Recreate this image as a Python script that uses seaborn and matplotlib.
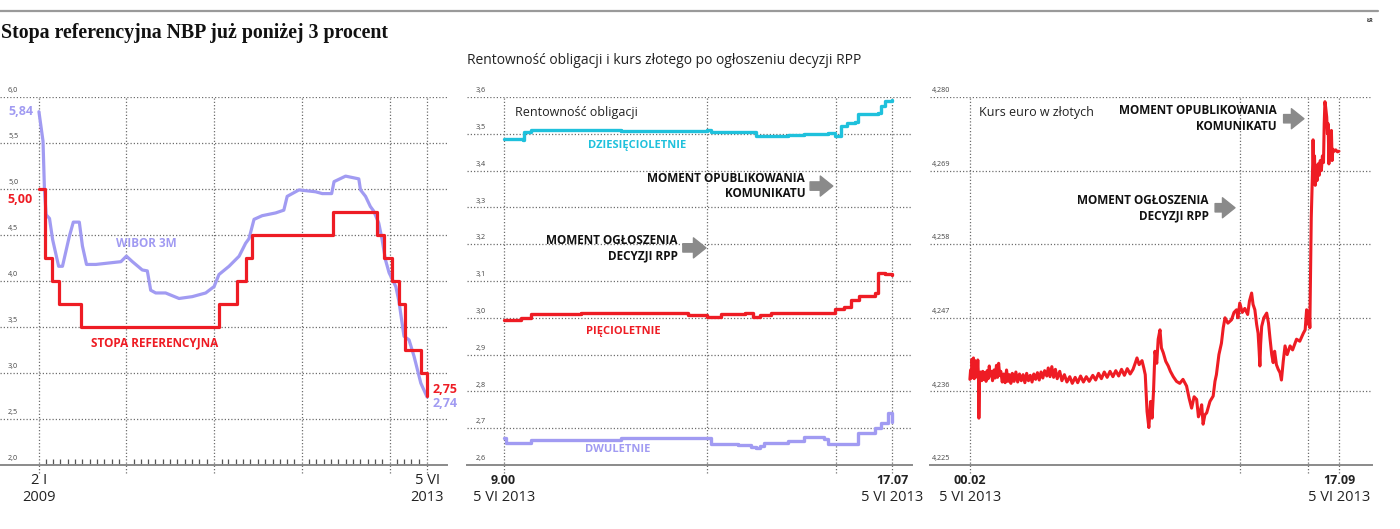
import pandas as pd
import seaborn as sns
import matplotlib.pyplot as plt

# --- left panel: NBP reference rate and WIBOR 3M (2009-2013)
ref_dates = ["2009-01-02", "2009-01-28", "2009-02-26", "2009-03-26", "2009-06-25",
             "2011-01-20", "2011-04-06", "2011-05-12", "2011-06-09", "2012-05-10",
             "2012-11-08", "2012-12-06", "2013-01-10", "2013-02-07", "2013-03-07",
             "2013-05-09", "2013-06-05"]
ref_values = [5.00, 4.25, 4.00, 3.75, 3.50, 3.75, 4.00, 4.25, 4.50, 4.75,
              4.50, 4.25, 4.00, 3.75, 3.25, 3.00, 2.75]

wibor_dates = ["2009-01-02", "2009-01-19", "2009-01-25", "2009-02-01", "2009-02-15",
               "2009-02-28", "2009-03-25", "2009-04-10", "2009-05-08", "2009-05-25",
               "2009-06-19", "2009-07-02", "2009-07-19", "2009-08-27", "2009-11-04",
               "2009-12-09", "2010-01-01", "2010-01-26", "2010-03-08", "2010-03-29",
               "2010-04-12", "2010-05-03", "2010-06-13", "2010-08-08", "2010-10-02",
               "2010-11-27", "2011-01-01", "2011-01-21", "2011-03-04", "2011-04-15",
               "2011-05-12", "2011-05-26", "2011-06-16", "2011-07-20", "2011-09-14",
               "2011-10-18", "2011-11-01", "2011-12-20", "2012-02-27", "2012-03-26",
               "2012-05-04", "2012-05-14", "2012-07-01", "2012-08-25", "2012-09-01",
               "2012-09-22", "2012-10-12", "2012-10-26", "2012-11-16", "2012-11-30",
               "2012-12-14", "2012-12-29", "2013-01-26", "2013-02-08", "2013-03-01",
               "2013-03-22", "2013-04-12", "2013-05-10", "2013-06-05"]
wibor_values = [5.84, 5.52, 4.99, 4.72, 4.68, 4.45, 4.16, 4.16, 4.48, 4.64,
                4.64, 4.38, 4.18, 4.18, 4.20, 4.21, 4.27, 4.21, 4.12, 4.11,
                3.90, 3.87, 3.87, 3.81, 3.83, 3.87, 3.94, 4.07, 4.16, 4.27,
                4.41, 4.46, 4.67, 4.71, 4.74, 4.77, 4.92, 4.99, 4.97, 4.95,
                4.95, 5.08, 5.14, 5.11, 4.99, 4.92, 4.81, 4.76, 4.63, 4.45,
                4.23, 4.09, 3.94, 3.78, 3.40, 3.36, 3.18, 2.89, 2.74]

# --- middle panel: bond yields on 5 VI 2013
y10_times = ["09:00", "09:24", "09:26", "09:34", "10:45", "11:27", "13:15", "13:20",
             "14:15", "14:17", "14:56", "15:17", "15:47", "15:55", "16:03", "16:10",
             "16:20", "16:24", "16:49", "16:53", "16:58", "17:07"]
y10_values = [3.486, 3.484, 3.504, 3.509, 3.509, 3.507, 3.509, 3.504,
              3.504, 3.495, 3.498, 3.500, 3.502, 3.493, 3.520, 3.529,
              3.531, 3.555, 3.556, 3.575, 3.588, 3.591]

y5_times = ["09:00", "09:22", "09:34", "10:37", "11:27", "12:51", "13:15", "13:20",
            "13:33", "14:02", "14:12", "14:21", "14:35", "15:51", "15:55", "16:07",
            "16:16", "16:26", "16:45", "16:49", "16:58", "17:07"]
y5_values = [2.994, 2.999, 3.010, 3.013, 3.013, 3.008, 3.002, 3.003,
             3.010, 3.014, 3.002, 3.008, 3.013, 3.013, 3.023, 3.028,
             3.049, 3.060, 3.067, 3.121, 3.119, 3.115]

y2_times = ["09:00", "09:03", "09:34", "11:27", "13:15", "13:20", "13:54", "14:10",
            "14:17", "14:22", "14:27", "14:56", "15:17", "15:42", "15:47", "16:11",
            "16:24", "16:45", "16:53", "17:02", "17:07"]
y2_values = [2.673, 2.659, 2.668, 2.673, 2.673, 2.657, 2.654, 2.650,
             2.645, 2.652, 2.659, 2.666, 2.677, 2.670, 2.657, 2.657,
             2.686, 2.700, 2.713, 2.740, 2.718]

# --- right panel: EUR/PLN on 5 VI 2013
eur_times = ["00:02", "00:04", "00:06", "00:08", "00:10", "00:12", "00:14", "00:16",
             "00:18", "00:20", "00:22", "00:24", "00:26", "00:27", "00:29", "00:32",
             "00:35", "00:38", "00:41", "00:44", "00:47", "00:50", "00:53", "00:56",
             "00:58", "01:02", "01:05", "01:09", "01:12", "01:16", "01:19", "01:22",
             "01:25", "01:28", "01:32", "01:36", "01:40", "01:44", "01:48", "01:52",
             "01:56", "02:00", "02:05", "02:10", "02:15", "02:20", "02:25", "02:30",
             "02:35", "02:40", "02:45", "02:50", "02:55", "03:00", "03:05", "03:10",
             "03:15", "03:20", "03:25", "03:30", "03:36", "03:40", "03:45", "03:50",
             "03:55", "04:00", "04:05", "04:12", "04:18", "04:25", "04:32", "04:40",
             "04:47", "04:55", "05:02", "05:10", "05:18", "05:26", "05:34", "05:44",
             "05:52", "06:00", "06:08", "06:16", "06:24", "06:32", "06:40", "06:48",
             "06:56", "07:04", "07:12", "07:20", "07:28", "07:36", "07:42", "07:47",
             "07:53", "08:01", "08:06", "08:10", "08:15", "08:20", "08:25", "08:29",
             "08:33", "08:37", "08:42", "08:46", "08:51",
             "08:55", "09:00", "09:07", "09:14", "09:20", "09:28", "09:37", "09:46",
             "09:55", "10:05", "10:12", "10:19", "10:26", "10:33", "10:38", "10:42",
             "10:47", "10:51", "10:56", "11:01", "11:10", "11:19", "11:24", "11:28",
             "11:35", "11:42", "11:47", "11:52", "12:00", "12:10", "12:17", "12:24",
             "12:28", "12:33", "12:40", "12:47", "12:55", "13:00", "13:06", "13:10",
             "13:15", "13:20", "13:24", "13:27", "13:29", "13:31", "13:34", "13:40",
             "13:48", "13:53", "13:57", "14:02", "14:06", "14:10", "14:15", "14:20",
             "14:25", "14:29", "14:34", "14:39", "14:45", "14:53", "15:00", "15:11",
             "15:20", "15:30", "15:35", "15:39", "15:42",
             "15:44", "15:46", "15:48", "15:50", "15:52", "15:54", "15:56", "15:57",
             "15:59", "16:01", "16:03", "16:05", "16:08", "16:11", "16:14", "16:17",
             "16:20", "16:23", "16:26", "16:28", "16:30", "16:32", "16:35", "16:37",
             "16:39", "16:41", "16:43", "16:46", "16:48", "16:50", "16:52", "16:56",
             "17:00", "17:05", "17:09"]
eur_values = [4.2378, 4.2392, 4.2380, 4.2408, 4.2385, 4.2410, 4.2379, 4.2406,
              4.2381, 4.2402, 4.2384, 4.2407, 4.2380, 4.2320, 4.2383, 4.2389,
              4.2376, 4.2390, 4.2378, 4.2388, 4.2375, 4.2391, 4.2379, 4.2398,
              4.2383, 4.2390, 4.2376, 4.2392, 4.2380, 4.2399, 4.2381, 4.2402,
              4.2384, 4.2390, 4.2374, 4.2386, 4.2373, 4.2392, 4.2375, 4.2385,
              4.2372, 4.2387, 4.2375, 4.2389, 4.2374, 4.2386, 4.2376, 4.2385,
              4.2373, 4.2387, 4.2376, 4.2384, 4.2374, 4.2386, 4.2378, 4.2388,
              4.2377, 4.2389, 4.2380, 4.2391, 4.2383, 4.2395, 4.2382, 4.2397,
              4.2381, 4.2393, 4.2379, 4.2390, 4.2376, 4.2385, 4.2374, 4.2382,
              4.2372, 4.2381, 4.2373, 4.2383, 4.2374, 4.2382, 4.2375, 4.2384,
              4.2377, 4.2387, 4.2379, 4.2389, 4.2381, 4.2390, 4.2382, 4.2391,
              4.2383, 4.2393, 4.2384, 4.2394, 4.2386, 4.2393, 4.2402, 4.2410,
              4.2400, 4.2406, 4.2395, 4.2385, 4.2330, 4.2306, 4.2345, 4.2320,
              4.2360, 4.2420, 4.2402, 4.2438, 4.2452,
              4.2425, 4.2418, 4.2405, 4.2398, 4.2390, 4.2382, 4.2375, 4.2372,
              4.2378, 4.2368, 4.2350, 4.2335, 4.2352, 4.2348, 4.2322, 4.2328,
              4.2340, 4.2311, 4.2325, 4.2328, 4.2345, 4.2353, 4.2375, 4.2385,
              4.2415, 4.2432, 4.2455, 4.2470, 4.2462, 4.2467, 4.2478, 4.2482,
              4.2470, 4.2492, 4.2478, 4.2484, 4.2475, 4.2495, 4.2507, 4.2490,
              4.2482, 4.2460, 4.2447, 4.2420, 4.2398, 4.2430, 4.2457, 4.2470,
              4.2477, 4.2462, 4.2440, 4.2415, 4.2403, 4.2420, 4.2400, 4.2393,
              4.2388, 4.2377, 4.2405, 4.2428, 4.2415, 4.2428, 4.2422, 4.2438,
              4.2435, 4.2447, 4.2452, 4.2482, 4.2470,
              4.2460, 4.2480, 4.2455, 4.2540, 4.2620, 4.2660, 4.2700, 4.2736,
              4.2680, 4.2712, 4.2668, 4.2695, 4.2675, 4.2700, 4.2683, 4.2705,
              4.2690, 4.2712, 4.2702, 4.2760, 4.2793, 4.2785, 4.2770, 4.2745,
              4.2760, 4.2700, 4.2745, 4.2725, 4.2750, 4.2705, 4.2722, 4.2719,
              4.2721, 4.2718, 4.2719]

left_yticks = [2.0, 2.5, 3.0, 3.5, 4.0, 4.5, 5.0, 5.5, 6.0]
mid_yticks = [2.6, 2.7, 2.8, 2.9, 3.0, 3.1, 3.2, 3.3, 3.4, 3.5, 3.6]
right_yticks = [4.225, 4.236, 4.247, 4.258, 4.269, 4.280]
left_grid = ["2009-01-02", "2010-01-01", "2011-01-01", "2012-01-01", "2013-01-01", "2013-06-05"]
mid_grid = ["09:00", "13:15", "15:57", "17:07"]
right_grid = ["00:02", "12:34", "15:44", "17:09"]

DAY = "2013-06-05 "
RED = "#ee1c24"
LAV = "#a19bf2"
CYAN = "#1fc1dc"
GRID = "#6e6e6e"
TXT = "#222222"
ARROW = "#8a8a8a"

sns.set_style("white")
plt.rcParams["font.family"] = ["Open Sans", "DejaVu Sans"]

W, H = 1400, 529
fig = plt.figure(figsize=(14, 5.29), dpi=100)


def px_axes(x0, x1, y_top, y_bot):
    return fig.add_axes([x0 / W, 1 - y_bot / H, (x1 - x0) / W, (y_bot - y_top) / H])


def comma(v, nd):
    return f"{v:.{nd}f}".replace(".", ",")


def style(ax, yticks, nd, vlines, label_x):
    ax.set_ylim(yticks[0], yticks[-1])
    for s in ["top", "right", "left"]:
        ax.spines[s].set_visible(False)
    ax.spines["bottom"].set_color("#8a8a8a")
    ax.spines["bottom"].set_linewidth(1.4)
    ax.set_yticks([])
    ax.set_xlabel("")
    ax.set_ylabel("")
    for v in yticks:
        if v != yticks[0]:
            ax.axhline(v, color=GRID, lw=0.9, ls=(0, (1, 1.6)), zorder=0)
        ax.annotate(comma(v, nd), (label_x, v), xycoords=ax.get_yaxis_transform(),
                    xytext=(0, 2), textcoords="offset points", fontsize=5.2,
                    color="#444444", ha="left", va="bottom")
    for d in vlines:
        ax.axvline(d, ymin=-0.022, ymax=1, color=GRID, lw=0.9, ls=(0, (1, 1.6)),
                   clip_on=False, zorder=0)


def arrow_note(ax, text, x_text, y, x0, x1):
    ax.text(x_text, y, text, transform=ax.transAxes, ha="right", va="center",
            fontsize=8.5, fontweight="bold", color="#111111", linespacing=1.25)
    ax.annotate("", xy=(x1, y), xytext=(x0, y), xycoords="axes fraction",
                arrowprops=dict(arrowstyle="simple,head_length=0.75,head_width=1.2,tail_width=0.5",
                                color=ARROW, shrinkA=0, shrinkB=0, mutation_scale=12))


def xlabels(ax, xs, times, dates, bold_time):
    tr = ax.get_xaxis_transform()
    for x, t, d in zip(xs, times, dates):
        ax.text(x, -0.042, t, transform=tr, ha="center", va="center", fontsize=9 if bold_time else 10.5,
                fontweight="bold" if bold_time else "normal", color=TXT)
        ax.text(x, -0.088, d, transform=tr, ha="center", va="center", fontsize=10.5, color=TXT)
    ax.set_xticks([])


# ---------------- left panel
ax1 = px_axes(0, 447, 97, 465)
sns.lineplot(x=pd.to_datetime(wibor_dates), y=wibor_values, ax=ax1, color=LAV, lw=2.3,
             estimator=None, sort=False)
sns.lineplot(x=pd.to_datetime(ref_dates), y=ref_values, ax=ax1, color=RED, lw=2.3,
             drawstyle="steps-post", estimator=None, sort=False)
ax1.set_xlim(pd.Timestamp("2008-07-24"), pd.Timestamp("2013-08-27"))
style(ax1, left_yticks, 1, pd.to_datetime(left_grid), 0.018)
xlabels(ax1, pd.to_datetime(["2009-01-02", "2013-06-05"]), ["2 I", "5 VI"], ["2009", "2013"], False)
months = [m for m in pd.date_range("2009-02-01", "2013-05-01", freq="MS") if m.month != 1]
ax1.set_xticks(months, minor=True)
ax1.tick_params(axis="x", which="minor", bottom=True, direction="in", length=4.5, width=0.9,
                color="#555555")

ax1.text(0.074, 5.84, "5,84", transform=ax1.get_yaxis_transform(), ha="right", va="center",
         fontsize=9, fontweight="bold", color=LAV)
ax1.text(0.074, 4.89, "5,00", transform=ax1.get_yaxis_transform(), ha="right", va="center",
         fontsize=9, fontweight="bold", color=RED)
ax1.text(0.968, 2.82, "2,75", transform=ax1.get_yaxis_transform(), ha="left", va="center",
         fontsize=9, fontweight="bold", color=RED)
ax1.text(0.968, 2.67, "2,74", transform=ax1.get_yaxis_transform(), ha="left", va="center",
         fontsize=9, fontweight="bold", color=LAV)
ax1.text(0.327, 0.603, "WIBOR 3M", transform=ax1.transAxes, ha="center", va="center",
         fontsize=8.5, fontweight="bold", color=LAV)
ax1.text(0.345, 0.332, "STOPA REFERENCYJNA", transform=ax1.transAxes, ha="center", va="center",
         fontsize=8.5, fontweight="bold", color=RED)

# ---------------- middle panel
ax2 = px_axes(467, 912, 97, 465)
for times, vals, col in [(y10_times, y10_values, CYAN), (y5_times, y5_values, RED),
                         (y2_times, y2_values, LAV)]:
    sns.lineplot(x=pd.to_datetime([DAY + t for t in times]), y=vals, ax=ax2, color=col, lw=2.4,
                 drawstyle="steps-post", estimator=None, sort=False)
ax2.set_xlim(pd.Timestamp(DAY + "08:14"), pd.Timestamp(DAY + "17:32"))
style(ax2, mid_yticks, 1, pd.to_datetime([DAY + t for t in mid_grid]), 0.02)
xlabels(ax2, pd.to_datetime([DAY + "09:00", DAY + "17:07"]), ["9.00", "17.07"],
        ["5 VI 2013", "5 VI 2013"], True)
ax2.text(0.108, 0.957, "Rentowność obligacji", transform=ax2.transAxes, ha="left", va="center",
         fontsize=9, color=TXT)
ax2.text(0.382, 0.867, "DZIESIĘCIOLETNIE", transform=ax2.transAxes, ha="center", va="center",
         fontsize=8, fontweight="bold", color=CYAN)
ax2.text(0.351, 0.364, "PIĘCIOLETNIE", transform=ax2.transAxes, ha="center", va="center",
         fontsize=8, fontweight="bold", color=RED)
ax2.text(0.339, 0.041, "DWULETNIE", transform=ax2.transAxes, ha="center", va="center",
         fontsize=8, fontweight="bold", color=LAV)
arrow_note(ax2, "MOMENT OPUBLIKOWANIA\nKOMUNIKATU", 0.760, 0.758, 0.771, 0.822)
arrow_note(ax2, "MOMENT OGŁOSZENIA\nDECYZJI RPP", 0.474, 0.590, 0.485, 0.537)

# ---------------- right panel
ax3 = px_axes(930, 1372, 97, 465)
sns.lineplot(x=pd.to_datetime([DAY + t for t in eur_times]), y=eur_values, ax=ax3, color=RED,
             lw=2.2, estimator=None, sort=False)
ax3.set_xlim(pd.Timestamp("2013-06-04 22:11"), pd.Timestamp(DAY + "18:41"))
style(ax3, right_yticks, 3, pd.to_datetime([DAY + t for t in right_grid]), 0.005)
xlabels(ax3, pd.to_datetime([DAY + "00:02", DAY + "17:09"]), ["00.02", "17.09"],
        ["5 VI 2013", "5 VI 2013"], True)
ax3.text(0.111, 0.957, "Kurs euro w złotych", transform=ax3.transAxes, ha="left", va="center",
         fontsize=9, color=TXT)
arrow_note(ax3, "MOMENT OPUBLIKOWANIA\nKOMUNIKATU", 0.785, 0.941, 0.800, 0.846)
arrow_note(ax3, "MOMENT OGŁOSZENIA\nDECYZJI RPP", 0.631, 0.699, 0.645, 0.690)

# ---------------- header
fig.add_artist(plt.Line2D([0, 1378 / W], [1 - 11 / H, 1 - 11 / H], color="#9a9a9a", lw=1.6))
fig.text(1370 / W, 1 - 20 / H, "ŁR", fontsize=4, fontweight="bold", color="#333333",
         ha="center", va="center")
fig.text(1 / W, 1 - 33 / H, "Stopa referencyjna NBP już poniżej 3 procent",
         family=["Liberation Serif", "DejaVu Serif"], fontweight="bold", fontsize=14.3,
         color="#111111", ha="left", va="center")
fig.text(467 / W, 1 - 61 / H, "Rentowność obligacji i kurs złotego po ogłoszeniu decyzji RPP",
         fontsize=10, color=TXT, ha="left", va="center")

fig.savefig("out.png", dpi=100)
